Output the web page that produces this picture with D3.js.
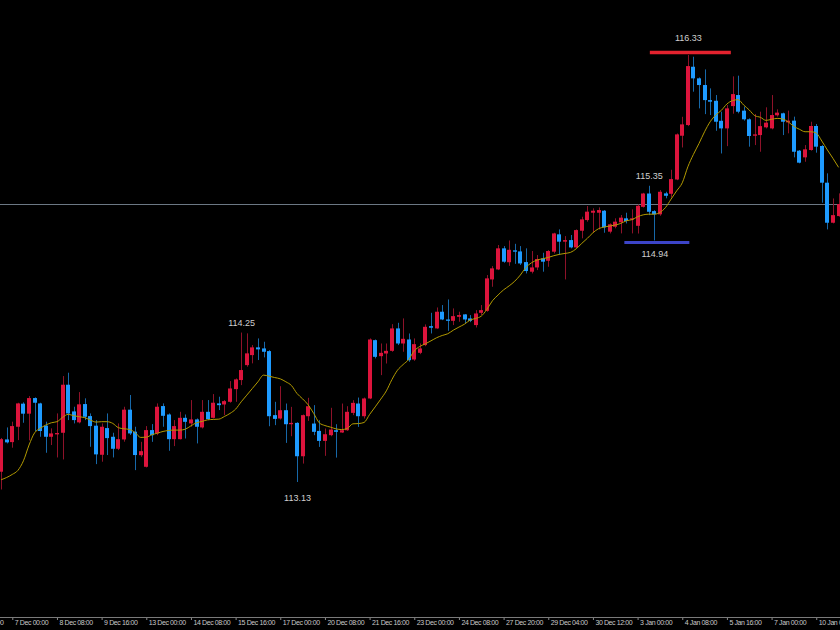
<!DOCTYPE html>
<html>
<head>
<meta charset="utf-8">
<script src="https://cdn.jsdelivr.net/npm/d3@7"></script>
<style>
html,body{margin:0;padding:0;background:#000;}
svg{display:block;}
</style>
</head>
<body>
<div id="chart"></div>
<script>
// ---- DATA (H4 candles, 3 Dec 2021 – 10 Jan 2022) ----
const opens = [
113.207,113.449,113.429,113.544,113.717,113.642,113.759,113.719,113.552,113.469,
113.487,113.499,113.859,113.659,113.577,113.714,113.624,113.552,113.334,113.534,
113.469,113.379,113.449,113.672,113.507,113.331,113.244,113.519,113.494,113.699,
113.636,113.451,113.451,113.611,113.569,113.599,113.539,113.656,113.611,113.719,
113.711,113.731,113.826,113.894,114.006,114.081,114.139,114.131,114.111,113.631,
113.606,113.668,113.563,113.573,113.323,113.623,113.568,113.513,113.438,113.481,
113.518,113.501,113.518,113.648,113.718,113.623,113.756,114.193,114.073,114.093,
114.113,114.281,114.168,114.198,114.048,114.098,114.156,114.298,114.281,114.406,
114.348,114.338,114.368,114.386,114.356,114.306,114.398,114.413,114.648,114.723,
114.881,114.777,114.866,114.858,114.778,114.706,114.738,114.806,114.788,114.856,
114.986,114.931,114.943,114.888,115.013,115.093,115.148,115.148,115.163,115.006,
115.043,115.076,115.106,115.098,115.050,115.192,115.292,115.160,115.136,115.293,
115.290,115.397,115.725,115.805,116.242,116.155,116.105,115.992,115.987,115.837,
115.780,115.947,116.030,115.913,115.848,115.725,115.730,115.788,115.780,115.878,
115.893,115.825,115.838,115.613,115.563,115.618,115.798,115.648,115.373,115.073,
115.123];
const highs = [
113.460,113.539,113.582,113.724,113.727,113.774,113.764,113.724,113.582,113.532,
113.644,113.924,113.949,113.694,113.804,113.757,113.644,113.594,113.569,113.644,
113.499,113.569,113.694,113.782,113.544,113.431,113.549,113.564,113.719,113.719,
113.644,113.594,113.656,113.636,113.744,113.606,113.744,113.744,113.789,113.769,
113.744,113.886,113.906,114.250,114.244,114.156,114.206,114.181,114.118,113.731,
113.848,113.718,113.693,113.578,113.636,113.761,113.706,113.593,113.531,113.686,
113.563,113.718,113.698,113.743,113.763,113.763,114.206,114.198,114.168,114.168,
114.313,114.323,114.356,114.243,114.206,114.168,114.311,114.398,114.438,114.456,
114.498,114.431,114.406,114.388,114.381,114.418,114.456,114.681,114.748,114.906,
114.898,114.940,114.915,114.898,114.881,114.861,114.831,114.848,114.868,114.998,
115.023,114.973,114.981,115.023,115.118,115.198,115.181,115.188,115.168,115.068,
115.106,115.131,115.148,115.173,115.210,115.297,115.350,115.167,115.318,115.305,
115.470,115.742,115.867,116.330,116.317,116.162,116.222,116.080,116.030,115.905,
115.955,116.170,116.175,115.943,115.855,115.888,115.905,115.938,116.030,115.923,
115.898,115.913,115.868,115.618,115.655,115.830,115.813,115.655,115.443,115.255,
115.293];
const lows = [
113.074,113.419,113.387,113.444,113.574,113.442,113.512,113.469,113.349,113.407,
113.314,113.299,113.594,113.569,113.569,113.594,113.394,113.264,113.282,113.332,
113.314,113.369,113.432,113.482,113.219,113.319,113.239,113.431,113.481,113.544,
113.364,113.399,113.449,113.456,113.544,113.419,113.531,113.594,113.606,113.669,
113.631,113.724,113.731,113.856,113.994,114.019,114.044,114.064,113.548,113.556,
113.598,113.423,113.473,113.130,113.268,113.588,113.481,113.393,113.326,113.473,
113.313,113.498,113.513,113.631,113.543,113.606,113.751,114.056,113.931,114.018,
114.106,114.156,114.106,114.031,114.038,114.088,114.148,114.243,114.278,114.343,
114.263,114.306,114.331,114.318,114.328,114.288,114.381,114.406,114.593,114.718,
114.773,114.750,114.765,114.756,114.693,114.693,114.718,114.706,114.743,114.843,
114.831,114.648,114.881,114.881,114.956,115.081,114.998,115.023,114.998,114.993,
115.031,114.993,115.068,114.993,114.992,115.187,115.130,114.940,115.125,115.256,
115.262,115.392,115.637,115.797,116.055,115.930,115.887,115.880,115.762,115.592,
115.647,115.890,115.893,115.838,115.643,115.655,115.605,115.780,115.773,115.868,
115.730,115.743,115.563,115.518,115.530,115.613,115.598,115.223,115.023,115.068,
115.118];
const closes = [
113.451,113.427,113.549,113.719,113.642,113.759,113.724,113.512,113.469,113.494,
113.497,113.859,113.644,113.594,113.712,113.619,113.549,113.337,113.544,113.459,
113.379,113.451,113.672,113.494,113.332,113.361,113.519,113.481,113.694,113.626,
113.451,113.549,113.611,113.581,113.599,113.544,113.656,113.601,113.724,113.706,
113.736,113.831,113.899,113.969,114.094,114.139,114.124,114.106,113.623,113.603,
113.668,113.563,113.573,113.323,113.631,113.698,113.506,113.438,113.488,113.523,
113.506,113.518,113.656,113.723,113.623,113.756,114.198,114.068,114.098,114.113,
114.281,114.168,114.203,114.043,114.163,114.131,114.293,114.286,114.406,114.348,
114.338,114.373,114.381,114.348,114.338,114.393,114.418,114.656,114.731,114.881,
114.781,114.870,114.856,114.768,114.711,114.738,114.801,114.781,114.861,114.993,
114.931,114.943,114.888,115.018,115.098,115.156,115.163,115.168,115.038,115.061,
115.081,115.111,115.086,115.106,115.200,115.292,115.155,115.136,115.305,115.275,
115.400,115.735,115.810,116.247,116.155,116.105,115.992,115.980,115.830,115.780,
115.930,116.037,115.905,115.848,115.723,115.735,115.797,115.823,115.880,115.898,
115.830,115.838,115.605,115.523,115.623,115.798,115.643,115.373,115.073,115.130,
115.213];
// moving average line
const maValues = [
113.147,113.164,113.187,113.217,113.289,113.407,113.499,113.532,113.557,113.574,
113.582,113.614,113.637,113.627,113.619,113.612,113.594,113.579,113.582,113.582,
113.569,113.537,113.529,113.524,113.500,113.464,113.466,113.484,113.496,113.509,
113.516,113.519,113.519,113.526,113.551,113.574,113.584,113.596,113.599,113.601,
113.621,113.644,113.676,113.731,113.781,113.831,113.881,113.931,113.923,113.913,
113.903,113.881,113.853,113.793,113.753,113.708,113.643,113.573,113.553,113.541,
113.528,113.523,113.531,113.566,113.568,113.576,113.636,113.693,113.751,113.813,
113.898,113.968,114.010,114.048,114.113,114.146,114.166,114.188,114.211,114.228,
114.241,114.268,114.291,114.313,114.343,114.356,114.373,114.423,114.488,114.531,
114.570,114.600,114.635,114.681,114.738,114.773,114.793,114.803,114.813,114.826,
114.836,114.843,114.851,114.878,114.918,114.956,114.998,115.028,115.041,115.048,
115.056,115.068,115.088,115.096,115.118,115.132,115.137,115.137,115.150,115.187,
115.250,115.312,115.372,115.492,115.585,115.667,115.755,115.830,115.880,115.915,
115.963,115.988,115.995,115.955,115.918,115.875,115.863,115.840,115.848,115.855,
115.850,115.828,115.795,115.773,115.755,115.755,115.745,115.685,115.618,115.555,
115.488];
// time-axis labels, one every 8 candles (first one falls before the first visible candle)
const tickLabels = ["3 Dec 16:00","7 Dec 00:00","8 Dec 08:00","9 Dec 16:00","13 Dec 00:00",
  "14 Dec 08:00","15 Dec 16:00","17 Dec 00:00","20 Dec 08:00","21 Dec 16:00","23 Dec 00:00",
  "24 Dec 08:00","27 Dec 20:00","29 Dec 04:00","30 Dec 12:00","3 Jan 00:00","4 Jan 08:00",
  "5 Jan 16:00","7 Jan 00:00","10 Jan 08:00"];
const tickFirstIndex = -6, tickStep = 8;
// swing annotations (candle index, which extreme, with marker bar or not)
const swingIdx   = [123, 116, 43, 117, 53];
const swingKind  = ["high","high","high","low","low"];
const swingBar   = [true, false, false, true, false];

// ---- CHART ----
const W = 840, H = 630;
const N = opens.length;
const svg = d3.select("#chart").append("svg").attr("width", W).attr("height", H);
svg.append("rect").attr("width", W).attr("height", H).attr("fill", "#000");

const x = d3.scaleLinear().domain([0, N - 1]).range([1.13, 1.13 + (N - 1) * 5.583]);
const y = d3.scaleLinear().domain([113.13, 116.33]).range([482, 55]);

const upColor = "#dc143c", downColor = "#1e9bff";
const upWick = "#8e1229", downWick = "#1768a8";
const px = i => Math.round(x(i));

const candles = d3.range(N).map(i => ({i, o: opens[i], h: highs[i], l: lows[i], c: closes[i]}));
const isUp = d => d.c >= d.o;

// current price line
const lastY = Math.round(y(closes[N - 1])) + 0.5;
svg.append("line").attr("x1", 0).attr("x2", W).attr("y1", lastY).attr("y2", lastY)
  .attr("stroke", "#6c7884").attr("stroke-width", 1);

const cg = svg.append("g");
cg.selectAll("line.wick").data(candles).join("line").attr("class", "wick")
  .attr("x1", d => px(d.i) + 0.5).attr("x2", d => px(d.i) + 0.5)
  .attr("y1", d => y(d.h)).attr("y2", d => y(d.l))
  .attr("stroke", d => isUp(d) ? upWick : downWick).attr("stroke-width", 1);
cg.selectAll("rect.body").data(candles).join("rect").attr("class", "body")
  .attr("x", d => px(d.i) - 2).attr("width", 4)
  .attr("y", d => Math.min(y(d.o), y(d.c)))
  .attr("height", d => Math.max(1.2, Math.abs(y(d.o) - y(d.c))))
  .attr("fill", d => isUp(d) ? upColor : downColor);

// moving average
const maLine = d3.line().x((d, i) => x(i)).y(d => y(d)).curve(d3.curveMonotoneX);
svg.append("path").datum(maValues).attr("d", maLine)
  .attr("fill", "none").attr("stroke", "#b29a00").attr("stroke-width", 1);

// swing annotations
const ag = svg.append("g").attr("font-family", "'Liberation Sans', Arial, sans-serif")
  .attr("font-size", "9px").attr("fill", "#cfcfcf").attr("text-anchor", "middle");
swingIdx.forEach((i, k) => {
  const hi = swingKind[k] === "high";
  const v = hi ? highs[i] : lows[i];
  const yy = y(v);
  if (swingBar[k]) {
    if (hi) {
      svg.append("line").attr("x1", x(i) - 38).attr("x2", x(i) + 43)
        .attr("y1", yy - 2.5).attr("y2", yy - 2.5)
        .attr("stroke", "#e3222e").attr("stroke-width", 3.6);
    } else {
      svg.append("line").attr("x1", x(i) - 30).attr("x2", x(i) + 35)
        .attr("y1", yy + 2).attr("y2", yy + 2)
        .attr("stroke", "#3c44c8").attr("stroke-width", 2.8);
    }
  }
  const ty = hi ? (swingBar[k] ? yy - 14 : yy - 7) : (swingBar[k] ? yy + 16.5 : yy + 18.5);
  ag.append("text").attr("x", x(i) + 0.5).attr("y", ty).text(v.toFixed(2));
});

// time axis
const tickIdx = tickLabels.map((_, k) => tickFirstIndex + tickStep * k);
const axis = d3.axisBottom(x).tickValues(tickIdx)
  .tickFormat((d, k) => tickLabels[k]).tickSize(3).tickSizeOuter(0);
const axG = svg.append("g").attr("transform", "translate(0,617)").call(axis);
axG.select(".domain").remove();
svg.append("line").attr("x1", 0).attr("x2", W).attr("y1", 617.5).attr("y2", 617.5)
  .attr("stroke", "#7a7a7a").attr("stroke-width", 1);
axG.selectAll(".tick line").attr("stroke", "#8a8a8a");
axG.selectAll(".tick text")
  .attr("text-anchor", "start").attr("x", 2).attr("y", 3).attr("dy", "0.71em")
  .attr("fill", "#c8c8c8").style("font-family", "'Liberation Sans', Arial, sans-serif")
  .style("font-size", "7px").style("letter-spacing", "-0.4px");
</script>
</body>
</html>
